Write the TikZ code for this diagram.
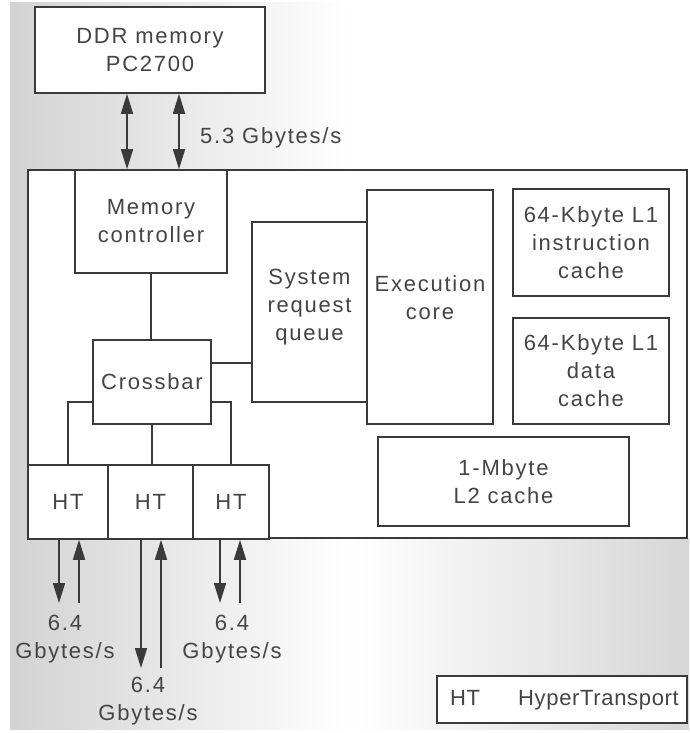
\documentclass[tikz,border=0pt]{standalone}
\usepackage{fontspec}
\setmainfont{Liberation Sans}[LetterSpace=8]
\newfontfamily\legfont{Liberation Sans}[LetterSpace=3]
\usetikzlibrary{arrows.meta}
\definecolor{ln}{HTML}{3A3A3A}
\definecolor{tx}{HTML}{444444}
\begin{document}
\begin{tikzpicture}[x=1pt,y=-1pt,
  txtfont/.style={font=\fontsize{22pt}{28pt}\selectfont},
  box/.style={draw=ln, line width=1.6pt, fill=white, inner sep=0pt, text=tx, align=center, txtfont},
  lbl/.style={text=tx, align=center, inner sep=0pt, txtfont},
  con/.style={draw=ln, line width=1.6pt},
  arr/.style={con, -{Triangle[length=20pt,width=12pt]}},
  darr/.style={con, {Triangle[length=20pt,width=12pt]}-{Triangle[length=20pt,width=12pt]}}]
\useasboundingbox (0,0) rectangle (689,733);
\fill[left color=gray!35, right color=white, middle color=white] (10,3) rectangle (689,729);
\fill[left color=white, right color=gray!32] (350,538) rectangle (689,729);

% DDR memory
\node[box, minimum width=230pt, minimum height=86pt] (ddr) at (150,50) {DDR memory\\PC2700};

% chip outline
\node[box, minimum width=659pt, minimum height=368pt] (chip) at (357.5,354) {};

% inner blocks
\node[box, minimum width=152pt, minimum height=103pt] (mc) at (151,221.5) {Memory\\controller};
\node[box, minimum width=118pt, minimum height=84pt] (xbar) at (152,382) {Crossbar};
\node[box, minimum width=115pt, minimum height=180pt] (srq) at (309.5,312) {};
\node[lbl] (srqt) at (309.5,307) {System\\request\\queue};
\node[box, minimum width=126pt, minimum height=234pt] (exec) at (430,307) {};
\node[lbl] (exect) at (430,298) {Execution\\core};
\node[box, minimum width=156pt, minimum height=107pt] (l1i) at (591,242.5) {64-Kbyte L1\\instruction\\cache};
\node[box, minimum width=156pt, minimum height=106pt] (l1d) at (591,371) {64-Kbyte L1\\data\\cache};
\node[box, minimum width=251pt, minimum height=89pt] (l2) at (503.5,481.5) {1-Mbyte\\L2 cache};

% HT blocks
\node[box, minimum width=80pt, minimum height=74pt] (ht1) at (68,502) {HT};
\node[box, minimum width=85pt, minimum height=74pt] (ht2) at (150.5,502) {HT};
\node[box, minimum width=76pt, minimum height=74pt] (ht3) at (231,502) {HT};

% internal connectors
\draw[con] (mc.south) -- (mc.south |- xbar.north);
\draw[con] ([yshift=19pt]xbar.east) -- ([yshift=19pt]xbar.east -| srq.west);
\draw[con] ([yshift=-20pt]xbar.west) -| (ht1.north);
\draw[con] (xbar.south) -- (xbar.south |- ht2.north);
\draw[con] ([yshift=-20pt]xbar.east) -| (ht3.north);

% memory bus arrows
\draw[darr] ([xshift=-23pt]ddr.south) -- ([xshift=-23pt]ddr.south |- chip.north);
\draw[darr] ([xshift=29pt]ddr.south) -- ([xshift=29pt]ddr.south |- chip.north);
\node[lbl, anchor=base west] (bw) at (200,143) {5.3 Gbytes/s};

% HT link arrows
\coordinate (e1) at (68,603);
\coordinate (e2) at (150.5,668);
\coordinate (e3) at (231,603);
\draw[arr] ([xshift=-9pt]ht1.south) -- ([xshift=-9pt]ht1.south |- e1);
\draw[arr] ([xshift=11pt]ht1.south |- e1) -- ([xshift=11pt]ht1.south);
\draw[arr] ([xshift=-9.5pt]ht2.south) -- ([xshift=-9.5pt]ht2.south |- e2);
\draw[arr] ([xshift=10.5pt]ht2.south |- e2) -- ([xshift=10.5pt]ht2.south);
\draw[arr] ([xshift=-11pt]ht3.south) -- ([xshift=-11pt]ht3.south |- e3);
\draw[arr] ([xshift=9pt]ht3.south |- e3) -- ([xshift=9pt]ht3.south);

\node[lbl] (r1) at (65,639) {6.4\\Gbytes/s};
\node[lbl] (r2) at (148,701.5) {6.4\\Gbytes/s};
\node[lbl] (r3) at (232,639) {6.4\\Gbytes/s};

% legend
\node[box, minimum width=250pt, minimum height=47pt] (leg) at (562,699.5) {};
\node[lbl, anchor=base west, font=\legfont\fontsize{22pt}{28pt}\selectfont] (legk) at (450,705) {HT};
\node[lbl, anchor=base west, font=\legfont\fontsize{22pt}{28pt}\selectfont] (legv) at (518,705) {HyperTransport};
\end{tikzpicture}
\end{document}
